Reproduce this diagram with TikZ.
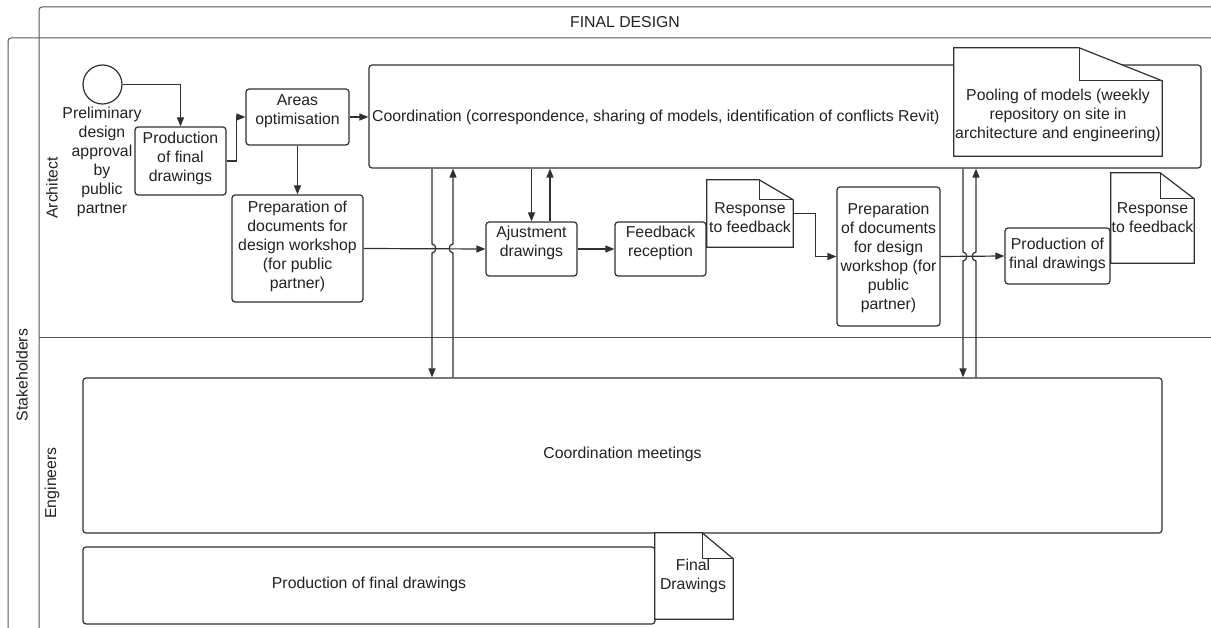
\documentclass[tikz,border=0pt]{standalone}
\usepackage{fontspec}
\setmainfont{Liberation Sans}
\usetikzlibrary{arrows.meta,calc}
\definecolor{ink}{HTML}{222222}
\definecolor{edge}{HTML}{303030}
\definecolor{lane}{HTML}{555555}
% document shape with a folded top-right corner: node name, fold width, fold height
\newcommand\dognote[3]{%
  \draw[note] (#1.north west) -- ([xshift=-#2pt]#1.north east) -- ([yshift=-#3pt]#1.north east)
    -- (#1.south east) -- (#1.south west) -- cycle;
  \draw[note, fill=none] ([xshift=-#2pt]#1.north east) |- ([yshift=-#3pt]#1.north east);
}
\begin{document}
\begin{tikzpicture}[x=1pt,y=-1pt,
  every node/.style={font=\fontsize{15.8}{19}\selectfont, text=ink},
  frame/.style={draw=lane, line width=1pt},
  box/.style={draw=edge, line width=1.2pt, rounded corners=3pt, fill=white, inner sep=0pt},
  area/.style={inner sep=0pt},
  txt/.style={align=center, inner sep=0pt},
  note/.style={draw=edge, line width=1.2pt, fill=white, line join=miter},
  arr/.style={draw=edge, line width=1.2pt, -{Triangle[length=9pt,width=7pt]}},
]
\useasboundingbox (0,0) rectangle (1211,628);
\clip (0,0) rectangle (1211,628);
\fill[white] (0,0) rectangle (1211,628);

% ---- pool, header and lanes
\draw[frame, rounded corners=3pt] (39,660) -- (39,7) -- (1240,7);
\draw[frame, rounded corners=3pt] (8,660) -- (8,38) -- (1240,38);
\draw[frame] (39,338) -- (1240,338);
\node (title) at (625,22.5) {FINAL DESIGN};
\node[rotate=90] (pool) at (22,375) {Stakeholders};
\node[rotate=90] (archlane) at (52,188) {Architect};
\node[rotate=90] (englane) at (52,483) {Engineers};

% ---- architect lane
\node[draw=edge, line width=1.2pt, circle, minimum size=39pt, inner sep=0pt, fill=white] (start) at (102.5,84.5) {};
\node[txt] (startlbl) at (102,161.5) {Preliminary\\design\\approval\\by\\public\\partner};

\node[box, minimum width=91pt, minimum height=68pt] (prod1) at (180.5,161) {};
\node[txt] (prod1-t) at (180.5,158) {Production\\of final\\drawings};

\node[box, minimum width=103pt, minimum height=56pt] (areas) at (297.5,117) {};
\node[txt] (areas-t) at (297.5,111) {Areas\\optimisation};

\node[box, minimum width=131pt, minimum height=107pt] (prep1) at (297.5,248.5) {};
\node[txt] (prep1-t) at (297.5,246) {Preparation of\\documents for\\design workshop\\(for public\\partner)};

\node[box, minimum width=832pt, minimum height=103pt] (coord) at (785,116.5) {};
\node[inner sep=0pt, anchor=west] (coord-t) at (372,117.5)
  {Coordination (correspondence, sharing of models, identification of conflicts Revit)};

\node[area, minimum width=208pt, minimum height=108pt] (pooling) at (1058,102) {};
\dognote{pooling}{83}{33}
\node[txt] (pooling-t) at (1058,115.5) {Pooling of models (weekly\\repository on site in\\architecture and engineering)};

\node[box, minimum width=91pt, minimum height=54pt] (aj) at (531.5,249) {};
\node[txt] (aj-t) at (531.5,243) {Ajustment\\drawings};

\node[box, minimum width=91pt, minimum height=54pt] (fb) at (660.5,249) {};
\node[txt] (fb-t) at (660.5,243) {Feedback\\reception};

\node[area, minimum width=86pt, minimum height=67pt] (resp1) at (750,213.5) {};
\dognote{resp1}{34}{20}
\node[txt] (resp1-t) at (750,218) {Response\\to feedback};

\node[box, minimum width=103pt, minimum height=139pt] (prep2) at (888.5,256.5) {};
\node[txt] (prep2-t) at (888.5,257.5) {Preparation\\of documents\\for design\\workshop (for\\public\\partner)};

\node[box, minimum width=105pt, minimum height=56pt] (prod2) at (1057.5,256) {};
\node[txt] (prod2-t) at (1057.5,255) {Production of\\final drawings};

\node[area, minimum width=83pt, minimum height=90pt] (resp2) at (1152.5,218) {};
\dognote{resp2}{34}{26}
\node[txt] (resp2-t) at (1152.5,217.5) {Response\\to feedback};

% ---- engineers lane
\node[box, minimum width=1079pt, minimum height=155pt] (cm) at (622.5,455.5) {};
\node[txt] (cm-t) at (622.5,454) {Coordination meetings};

\node[box, minimum width=572pt, minimum height=77pt] (pb) at (369,585.5) {};
\node[txt] (pb-t) at (369,584) {Production of final drawings};

\node[area, minimum width=78pt, minimum height=86pt] (finald) at (694,576) {};
\dognote{finald}{31}{26}
\node[txt] (finald-t) at (693,575.5) {Final\\Drawings};

% ---- sequence flow in the architect lane
\draw[arr] (start.east) -| (prod1.north);
\draw[arr] (prod1.east) -- ++(10,0) |- (areas.west);
\draw[arr] (areas.east) -- (areas.east -| coord.west);
\draw[arr] (areas.south) -- (prep1.north);
\draw[arr] (prep1.east) -- (aj.west);
\draw[arr] (aj.east) -- (fb.west);
\draw[arr] (resp1.east) -- ++(22,0) |- (prep2.west);
\draw[arr] (prep2.east) -- (prod2.west);

% coordination <-> adjustment drawings
\coordinate (ajup) at ([xshift=18.5pt]aj.north);
\draw[arr] (aj.north |- coord.south) -- (aj.north);
\draw[arr] (ajup) -- (ajup |- coord.south);

% links between coordination and the engineers' meetings, hopping over the flow
\coordinate (c1) at (432,0 |- prep1.east);
\coordinate (c2) at (453,0 |- prep1.east);
\coordinate (c3) at (963,0 |- prep2.east);
\coordinate (c4) at (976,0 |- prep2.east);
\draw[arr] (c1 |- coord.south) -- ($(c1)+(0,-4.5)$)
  .. controls ($(c1)+(5,-4.5)$) and ($(c1)+(5,4.5)$) .. ($(c1)+(0,4.5)$) -- (c1 |- cm.north);
\draw[arr] (c2 |- cm.north) -- ($(c2)+(0,4.5)$)
  .. controls ($(c2)+(-5,4.5)$) and ($(c2)+(-5,-4.5)$) .. ($(c2)+(0,-4.5)$) -- (c2 |- coord.south);
\draw[arr] (c3 |- coord.south) -- ($(c3)+(0,-4.5)$)
  .. controls ($(c3)+(5,-4.5)$) and ($(c3)+(5,4.5)$) .. ($(c3)+(0,4.5)$) -- (c3 |- cm.north);
\draw[arr] (c4 |- cm.north) -- ($(c4)+(0,4.5)$)
  .. controls ($(c4)+(-5,4.5)$) and ($(c4)+(-5,-4.5)$) .. ($(c4)+(0,-4.5)$) -- (c4 |- coord.south);
\end{tikzpicture}
\end{document}
